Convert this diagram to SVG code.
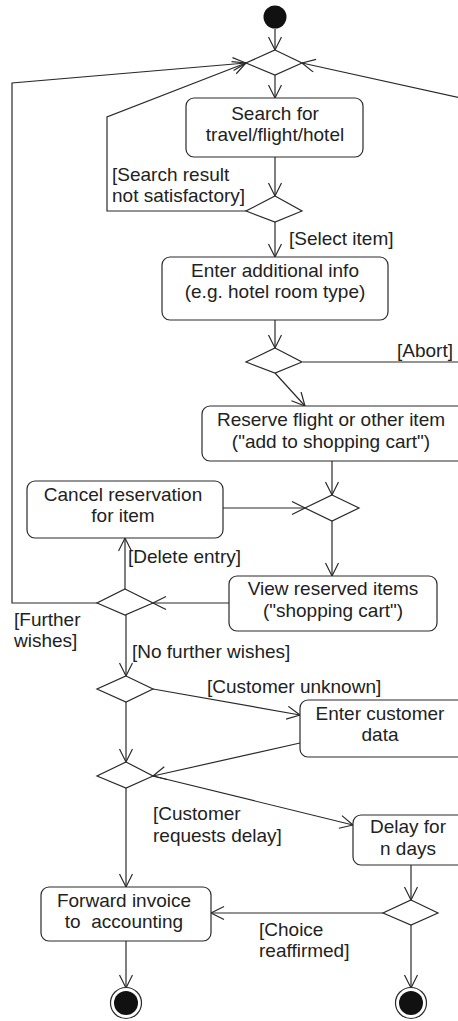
<svg xmlns="http://www.w3.org/2000/svg" width="458" height="1021" viewBox="0 0 458 1021">
<defs>
<marker id="arr" markerUnits="userSpaceOnUse" markerWidth="16" markerHeight="16" viewBox="0 0 16 16" refX="14" refY="7" orient="auto">
<path d="M1,0.5 L14,7 L1,13.5" fill="none" stroke="#2a2a2a" stroke-width="1.2"/>
</marker>
</defs>
<style>
.box{fill:#fff;stroke:#2a2a2a;stroke-width:1.2}
.dia{fill:#fff;stroke:#2a2a2a;stroke-width:1.2}
.ln{fill:none;stroke:#2a2a2a;stroke-width:1.2}
.a{marker-end:url(#arr)}
text{font-family:"Liberation Sans",Arial,sans-serif;font-size:19px;fill:#222}
.c{text-anchor:middle}
</style>
<rect width="458" height="1021" fill="#fff"/>
<g id="connectors">
<line class="ln a" x1="275" y1="29" x2="275" y2="50"/>
<line class="ln a" x1="275" y1="75" x2="275" y2="98"/>
<line class="ln a" x1="275" y1="157" x2="275" y2="196"/>
<polyline class="ln a" points="246,211 107,211 107,117 246,63"/>
<line class="ln a" x1="275" y1="222" x2="275" y2="257"/>
<line class="ln a" x1="275" y1="320" x2="275" y2="348"/>
<polyline class="ln a" points="303,362 470,362 470,100 302,63"/>
<line class="ln a" x1="275" y1="373" x2="305" y2="406"/>
<line class="ln a" x1="332" y1="461" x2="332" y2="495"/>
<line class="ln a" x1="223" y1="508" x2="305" y2="508"/>
<line class="ln a" x1="332" y1="521" x2="332" y2="576"/>
<line class="ln a" x1="229" y1="603" x2="153" y2="603"/>
<line class="ln a" x1="125" y1="589" x2="125" y2="538"/>
<polyline class="ln a" points="97,603 12,603 12,83 246,63"/>
<line class="ln a" x1="126" y1="615" x2="126" y2="676"/>
<line class="ln a" x1="153" y1="689" x2="300" y2="715"/>
<line class="ln a" x1="126" y1="702" x2="126" y2="762"/>
<line class="ln a" x1="300" y1="743" x2="153" y2="776"/>
<line class="ln a" x1="153" y1="776" x2="353" y2="825"/>
<line class="ln a" x1="126" y1="788" x2="126" y2="887"/>
<line class="ln a" x1="411" y1="865" x2="411" y2="900"/>
<line class="ln a" x1="383" y1="913" x2="211" y2="913"/>
<line class="ln a" x1="126" y1="941" x2="126" y2="988"/>
<line class="ln a" x1="411" y1="925" x2="411" y2="988"/>
</g>
<g id="start"><circle cx="275" cy="17" r="11.5" fill="#111"/></g>
<g id="merge1"><polygon class="dia" points="275,50 302,63 275,75 246,63"/></g>
<g id="search"><rect class="box" x="186" y="98" width="177" height="59" rx="8"/>
<text class="c" x="275" y="120">Search for</text><text class="c" x="275" y="141">travel/flight/hotel</text></g>
<g id="dec1"><polygon class="dia" points="275,196 302,211 275,222 246,211"/></g>
<g id="enterinfo"><rect class="box" x="162" y="257" width="226" height="63" rx="8"/>
<text class="c" x="275" y="277">Enter additional info</text><text class="c" x="275" y="298">(e.g. hotel room type)</text></g>
<g id="dec2"><polygon class="dia" points="275,348 302,362 275,373 246,362"/></g>
<g id="reserve"><rect class="box" x="202" y="406" width="266" height="55" rx="8"/>
<text class="c" x="331" y="426">Reserve flight or other item</text><text class="c" x="331" y="448">("add to shopping cart")</text></g>
<g id="merge2"><polygon class="dia" points="332,495 359,508 332,521 305,508"/></g>
<g id="cancel"><rect class="box" x="27" y="481" width="196" height="57" rx="8"/>
<text class="c" x="123" y="501">Cancel reservation</text><text class="c" x="123" y="522">for item</text></g>
<g id="view"><rect class="box" x="229" y="576" width="208" height="55" rx="8"/>
<text class="c" x="333" y="595">View reserved items</text><text class="c" x="333" y="617">("shopping cart")</text></g>
<g id="dec3"><polygon class="dia" points="125,589 153,603 125,615 97,603"/></g>
<g id="dec4"><polygon class="dia" points="126,676 153,689 126,702 97,689"/></g>
<g id="customer"><rect class="box" x="300" y="700" width="168" height="57" rx="8"/>
<text class="c" x="380" y="720">Enter customer</text><text class="c" x="380" y="741">data</text></g>
<g id="dec5"><polygon class="dia" points="126,762 153,776 126,788 97,776"/></g>
<g id="delay"><rect class="box" x="353" y="815" width="115" height="50" rx="8"/>
<text class="c" x="408" y="833">Delay for</text><text class="c" x="408" y="855">n days</text></g>
<g id="forward"><rect class="box" x="41" y="887" width="170" height="54" rx="8"/>
<text class="c" x="124" y="907">Forward invoice</text><text class="c" x="124" y="928" xml:space="preserve">to  accounting</text></g>
<g id="dec6"><polygon class="dia" points="411,900 438,913 411,925 383,913"/></g>
<g id="end1"><circle cx="126" cy="1003" r="15.5" fill="#fff" stroke="#2a2a2a" stroke-width="1.2"/><circle cx="126" cy="1003" r="12" fill="#111"/></g>
<g id="end2"><circle cx="411" cy="1003" r="15.5" fill="#fff" stroke="#2a2a2a" stroke-width="1.2"/><circle cx="411" cy="1003" r="12" fill="#111"/></g>
<g id="labels">
<text x="112" y="181">[Search result</text><text x="112" y="202">not satisfactory]</text>
<text x="289" y="245">[Select item]</text>
<text x="453" y="357" text-anchor="end">[Abort]</text>
<text x="128" y="563">[Delete entry]</text>
<text x="14" y="626">[Further</text><text x="14" y="647">wishes]</text>
<text x="132" y="658">[No further wishes]</text>
<text x="207" y="693">[Customer unknown]</text>
<text x="153" y="820">[Customer</text><text x="153" y="842">requests delay]</text>
<text x="259" y="936">[Choice</text><text x="259" y="957">reaffirmed]</text>
</g>
</svg>
